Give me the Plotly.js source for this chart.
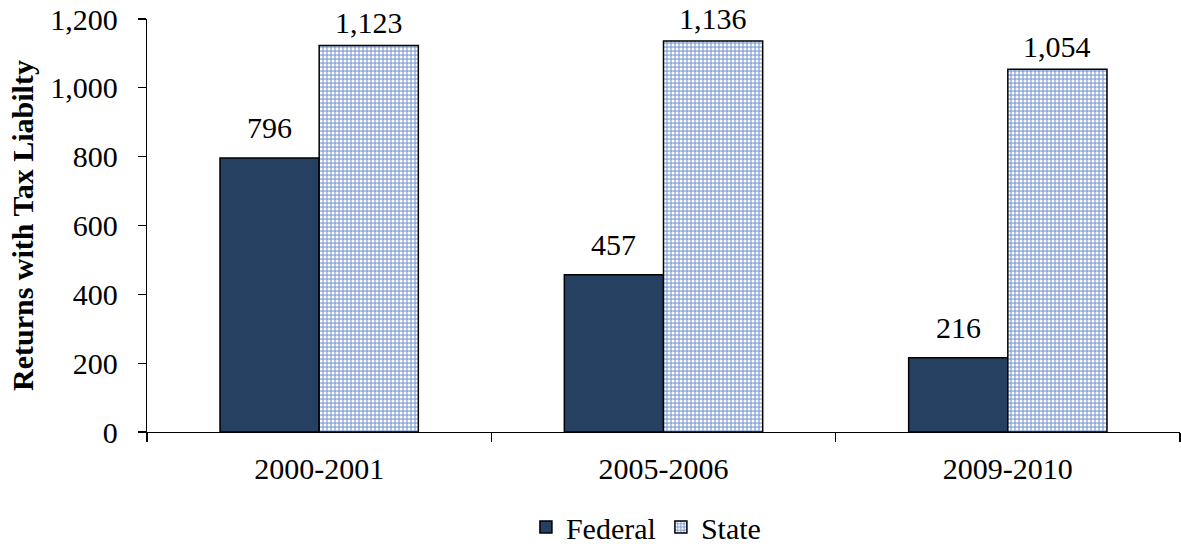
<!DOCTYPE html>
<html><head><meta charset="utf-8">
<script src="https://cdn.plot.ly/plotly-3.0.1.min.js"></script>
<style>body{margin:0;background:#fff}#c{width:1181px;height:546px}</style>
</head><body><div id="c"></div>
<script>
var categories = ["2000-2001", "2005-2006", "2009-2010"];
var federal = [796, 457, 216];
var state = [1123, 1136, 1054];
var yTicks = [0, 200, 400, 600, 800, 1000, 1200];
var yTickLabels = ["0", "200", "400", "600", "800", "1,000", "1,200"];

var font = "Liberation Serif";
var bargap = 0.424;
var half = (1 - bargap) / 4;

function fmt(v){ return v.toLocaleString("en-US"); }

var traces = [
  {type: "bar", name: "Federal", x: categories, y: federal,
   marker: {color: "#264061", line: {color: "#000", width: 1.5}}},
  {type: "bar", name: "State", x: categories, y: state,
   marker: {color: "#9cb6e2", line: {color: "#000", width: 1.5},
     pattern: {shape: ".", fgcolor: "#ffffff", bgcolor: "#8eaadb", size: 4, solidity: 0.45, fillmode: "replace"}}}
];

var annotations = [];
categories.forEach(function(c, i){
  annotations.push({x: i - half, y: federal[i], text: fmt(federal[i]), xref: "x", yref: "y",
    showarrow: false, yanchor: "bottom", yshift: 12, font: {family: font, size: 30, color: "#000"}});
  annotations.push({x: i + half, y: state[i], text: fmt(state[i]), xref: "x", yref: "y",
    showarrow: false, yanchor: "bottom", yshift: 4, font: {family: font, size: 30, color: "#000"}});
});

var layout = {
  width: 1181, height: 546,
  margin: {l: 147, r: 1, t: 19, b: 114, autoexpand: false},
  paper_bgcolor: "#fff", plot_bgcolor: "#fff",
  barmode: "group", bargap: bargap, bargroupgap: 0,
  font: {family: font, size: 30, color: "#000"},
  showlegend: true,
  annotations: annotations,
  legend: {orientation: "h", x: 0.483, xanchor: "center", yref: "container", y: 0.035, yanchor: "middle",
    font: {family: font, size: 30, color: "#000"}, itemwidth: 30, traceorder: "normal"},
  xaxis: {type: "category", showline: true, linecolor: "#000", linewidth: 1.3,
    ticks: "outside", tickson: "boundaries", ticklen: 9, tickcolor: "#000", tickwidth: 1.3,
    ticklabelstandoff: 10,
    tickfont: {family: font, size: 30}, showgrid: false, zeroline: false, fixedrange: true},
  yaxis: {range: [0, 1200], tickvals: yTicks, ticktext: yTickLabels,
    showline: true, linecolor: "#000", linewidth: 1.3,
    ticks: "outside", ticklen: 8, tickcolor: "#000", tickwidth: 1.3,
    ticklabelstandoff: 14,
    tickfont: {family: font, size: 30}, showgrid: false, zeroline: false,
    title: {text: "<b>Returns with Tax Liabilty</b>", font: {family: font, size: 30}, standoff: 7}}
};
Plotly.newPlot("c", traces, layout, {staticPlot: true});
</script></body></html>
